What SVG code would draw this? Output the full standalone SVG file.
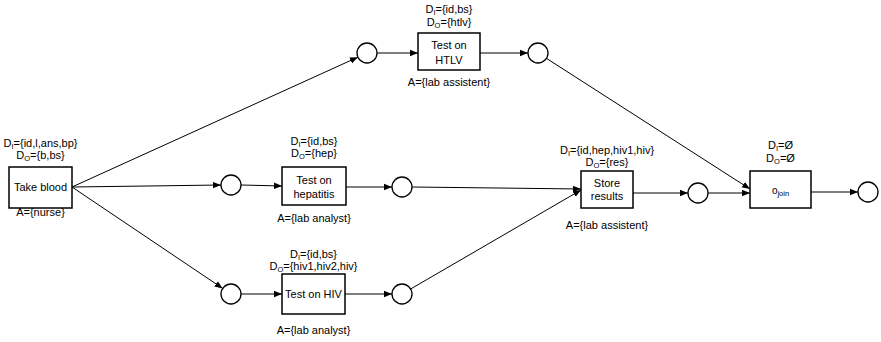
<svg xmlns="http://www.w3.org/2000/svg" width="881" height="342" viewBox="0 0 881 342">
<style>
text{font-family:"Liberation Sans",Arial,sans-serif;font-size:11px;fill:#000;text-anchor:middle}
.box{fill:#fff;stroke:#000;stroke-width:1.5}
.place{fill:#fff;stroke:#000;stroke-width:1.3}
.edge{fill:none;stroke:#000;stroke-width:1;marker-end:url(#arr)}
.sub{font-size:7.5px}
</style>
<defs>
<marker id="arr" markerUnits="userSpaceOnUse" markerWidth="8" markerHeight="8" viewBox="0 0 8 8" refX="8" refY="4" orient="auto">
<path d="M0,0.8 L8,4 L0,7.2 Z" fill="#000"/>
</marker>
</defs>
<rect width="881" height="342" fill="#fff"/>
<g id="connectors">
<line class="edge" x1="72" y1="187" x2="357.9" y2="57.2"/>
<line class="edge" x1="72" y1="187" x2="221" y2="185"/>
<line class="edge" x1="72" y1="187" x2="222.7" y2="288.4"/>
<line class="edge" x1="377" y1="53" x2="418" y2="53"/>
<line class="edge" x1="480" y1="53" x2="528" y2="53"/>
<line class="edge" x1="546.5" y1="58.4" x2="750" y2="189"/>
<line class="edge" x1="241" y1="185" x2="282" y2="186"/>
<line class="edge" x1="346" y1="187" x2="392" y2="187"/>
<line class="edge" x1="412" y1="187" x2="581" y2="189"/>
<line class="edge" x1="241" y1="294" x2="282" y2="294"/>
<line class="edge" x1="345" y1="294" x2="392" y2="294"/>
<line class="edge" x1="410.6" y1="289" x2="581" y2="190"/>
<line class="edge" x1="633" y1="193" x2="688" y2="193"/>
<line class="edge" x1="708" y1="193" x2="750" y2="193"/>
<line class="edge" x1="811" y1="192" x2="858" y2="192"/>
</g>
<g id="take_blood">
<rect class="box" x="9" y="167" width="63" height="41"/>
<text x="40.5" y="191">Take blood</text>
<text x="40.5" y="146.5">D<tspan class="sub" dy="2">I</tspan><tspan dy="-2">={id,l,ans,bp}</tspan></text>
<text x="40.5" y="159">D<tspan class="sub" dy="2">O</tspan><tspan dy="-2">={b,bs}</tspan></text>
<text x="40.5" y="216">A={nurse}</text>
</g>
<g id="p_htlv_in"><circle class="place" cx="367" cy="53" r="10"/></g>
<g id="test_htlv">
<rect class="box" x="418" y="33" width="62" height="37"/>
<text x="449" y="49">Test on</text>
<text x="449" y="64">HTLV</text>
<text x="449" y="13">D<tspan class="sub" dy="2">I</tspan><tspan dy="-2">={id,bs}</tspan></text>
<text x="449" y="26">D<tspan class="sub" dy="2">O</tspan><tspan dy="-2">={htlv}</tspan></text>
<text x="449" y="86">A={lab assistent}</text>
</g>
<g id="p_htlv_out"><circle class="place" cx="538" cy="53" r="10"/></g>
<g id="p_hep_in"><circle class="place" cx="231" cy="185" r="10"/></g>
<g id="test_hep">
<rect class="box" x="282" y="167" width="64" height="38"/>
<text x="314" y="184">Test on</text>
<text x="314" y="198">hepatitis</text>
<text x="314" y="145">D<tspan class="sub" dy="2">I</tspan><tspan dy="-2">={id,bs}</tspan></text>
<text x="314" y="157">D<tspan class="sub" dy="2">O</tspan><tspan dy="-2">={hep}</tspan></text>
<text x="314" y="222">A={lab analyst}</text>
</g>
<g id="p_hep_out"><circle class="place" cx="402" cy="187" r="10"/></g>
<g id="p_hiv_in"><circle class="place" cx="231" cy="294" r="10"/></g>
<g id="test_hiv">
<rect class="box" x="282" y="274" width="63" height="40"/>
<text x="313.5" y="298">Test on HIV</text>
<text x="313.5" y="257.5">D<tspan class="sub" dy="2">I</tspan><tspan dy="-2">={id,bs}</tspan></text>
<text x="313.5" y="270">D<tspan class="sub" dy="2">O</tspan><tspan dy="-2">={hiv1,hiv2,hiv}</tspan></text>
<text x="313.5" y="334">A={lab analyst}</text>
</g>
<g id="p_hiv_out"><circle class="place" cx="402" cy="294" r="10"/></g>
<g id="store_results">
<rect class="box" x="581" y="171" width="52" height="37"/>
<text x="607" y="187">Store</text>
<text x="607" y="200">results</text>
<text x="607" y="154">D<tspan class="sub" dy="2">I</tspan><tspan dy="-2">={id,hep,hiv1,hiv}</tspan></text>
<text x="607" y="166">D<tspan class="sub" dy="2">O</tspan><tspan dy="-2">={res}</tspan></text>
<text x="607" y="229">A={lab assistent}</text>
</g>
<g id="p_store_out"><circle class="place" cx="698" cy="193" r="10"/></g>
<g id="o_join">
<rect class="box" x="750" y="171" width="61" height="37"/>
<text x="780.5" y="194" style="font-size:10px">o<tspan class="sub" dy="2">join</tspan></text>
<text x="780.5" y="149">D<tspan class="sub" dy="2">I</tspan><tspan dy="-2">=Ø</tspan></text>
<text x="780.5" y="162">D<tspan class="sub" dy="2">O</tspan><tspan dy="-2">=Ø</tspan></text>
</g>
<g id="p_end"><circle class="place" cx="868" cy="192" r="10"/></g>
</svg>
